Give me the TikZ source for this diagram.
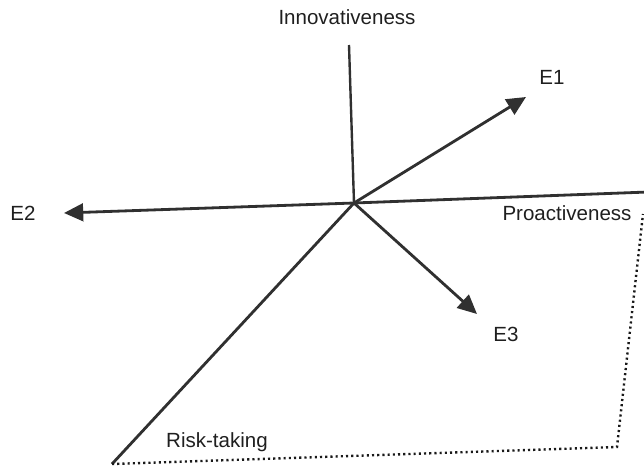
\documentclass[tikz,border=0pt]{standalone}
\usepackage{fontspec}
\setmainfont{Liberation Sans}
\usepackage{tikz}
\usetikzlibrary{arrows.meta}
\definecolor{axisgray}{HTML}{303030}
\tikzset{
  axis/.style={draw=axisgray, line width=2pt},
  vec/.style={axis, -{Triangle[length=0.48cm, width=0.44cm]}},
  border/.style={draw=black!90, line width=1.7pt, dash pattern=on 1.5pt off 2.2pt},
  lbl/.style={text=black!88, font=\fontsize{14.6}{17}\selectfont, inner sep=0pt}
}
\begin{document}
\begin{tikzpicture}[x=0.025cm, y=-0.025cm]
\useasboundingbox (0,0) rectangle (644,467);
\coordinate (O) at (354,203);
\coordinate (inno) at (349,45);
\coordinate (pro) at (648,192);
\coordinate (risk) at (112,464);
\coordinate (e1) at (526,97);
\coordinate (e2) at (64,213);
\coordinate (e3) at (477,314);
\coordinate (corner) at (617,447);
\coordinate (rtop) at (643,214);
\draw[axis, line width=1.7pt] (inno) -- (O);
\draw[axis] (O) -- (pro);
\draw[axis] (O) -- (risk);
\draw[vec] (O) -- (e1);
\draw[vec] (O) -- (e2);
\draw[vec] (O) -- (e3);
\draw[border] (risk) -- (corner) -- (rtop);
\node[lbl] (innolbl) at (347,17) {Innovativeness};
\node[lbl] (prolbl) at (567,213) {Proactiveness};
\node[lbl] (risklbl) at (217,442) {Risk-taking};
\node[lbl] (e1lbl) at (552,77) {E1};
\node[lbl] (e2lbl) at (23,213) {E2};
\node[lbl] (e3lbl) at (506,334) {E3};
\end{tikzpicture}
\end{document}
